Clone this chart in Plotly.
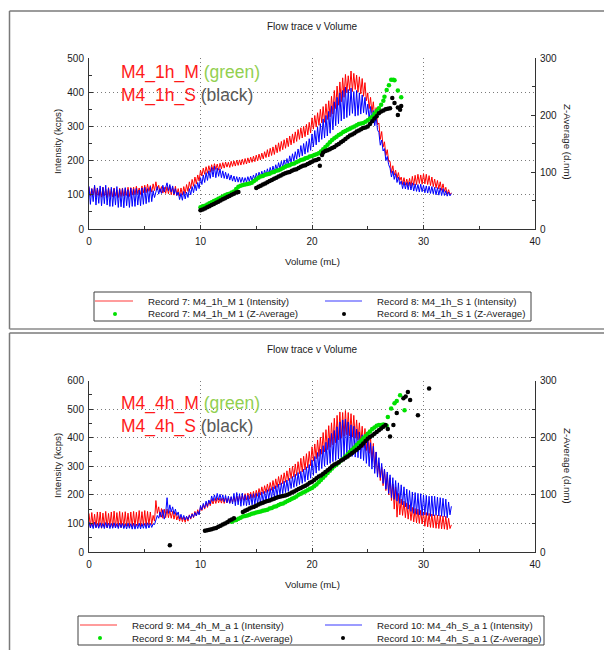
import plotly.graph_objects as go

# The page body has an 8px margin: the figure is 604x642 drawn at (8, 8)
W, H = 604, 642
OFF = 8
FONT = "Liberation Sans, Arial, sans-serif"
TXT = "#1a1a1a"

# ---------------- data ----------------
# volume sampling grid (mL) for the intensity traces, one reading every 0.125 mL
volume = [round(i * 0.125, 3) for i in range(261)]

# Record 7: M4_1h_M 1 (Intensity), kcps  (8 readings per mL)
red_top = [
    122, 96, 118, 100, 125, 94, 120, 98,
    118, 93, 122, 97, 116, 92, 121, 95,
    117, 94, 120, 96, 115, 92, 119, 95,
    120, 96, 118, 98, 122, 95, 121, 99,
    122, 100, 125, 103, 120, 101, 126, 106,
    128, 106, 131, 110, 127, 108, 132, 112,
    138, 114, 128, 108, 124, 105, 122, 104,
    124, 103, 126, 100, 121, 99, 125, 98,
    118, 96, 120, 99, 124, 104, 130, 110,
    138, 118, 145, 125, 152, 132, 158, 140,
    172, 155, 178, 160, 182, 163, 185, 166,
    188, 170, 191, 174, 190, 172, 192, 176,
    194, 178, 196, 181, 195, 180, 198, 183,
    199, 184, 201, 186, 202, 187, 204, 189,
    206, 190, 208, 193, 210, 195, 213, 197,
    216, 199, 219, 202, 222, 205, 226, 209,
    232, 211, 236, 215, 240, 218, 246, 223,
    252, 227, 256, 232, 261, 236, 266, 241,
    272, 246, 278, 251, 284, 256, 291, 262,
    296, 266, 300, 270, 306, 275, 312, 281,
    325, 292, 332, 298, 340, 303, 350, 310,
    358, 312, 366, 320, 375, 328, 388, 336,
    405, 352, 418, 362, 430, 372, 442, 385,
    452, 398, 448, 405, 462, 402, 455, 408,
    450, 400, 445, 395, 440, 388, 428, 375,
    398, 352, 385, 340, 372, 322, 355, 305,
    310, 262, 285, 240, 255, 215, 232, 198,
    198, 165, 185, 158, 172, 148, 165, 142,
    152, 130, 150, 128, 146, 126, 148, 125,
    154, 128, 157, 130, 160, 133, 158, 131,
    162, 132, 160, 130, 156, 127, 152, 124,
    146, 120, 142, 117, 138, 113, 132, 110,
    122, 102, 115, 100, 106,
]
# Record 8: M4_1h_S 1 (Intensity), kcps
blue_top = [
    125, 72, 118, 80, 128, 70, 120, 75,
    126, 68, 122, 74, 128, 70, 119, 66,
    122, 66, 118, 70, 124, 63, 116, 65,
    118, 62, 121, 68, 115, 63, 120, 66,
    116, 66, 119, 70, 114, 68, 120, 72,
    122, 74, 118, 78, 124, 80, 112, 92,
    108, 124, 102, 118, 104, 128, 108, 122,
    135, 112, 130, 108, 126, 102, 118, 98,
    108, 86, 104, 84, 110, 88, 108, 92,
    118, 100, 124, 106, 130, 112, 136, 118,
    150, 130, 158, 136, 165, 142, 170, 148,
    180, 152, 184, 150, 178, 154, 176, 150,
    170, 148, 166, 146, 162, 143, 158, 140,
    155, 138, 153, 137, 152, 136, 151, 136,
    150, 137, 153, 139, 155, 141, 158, 144,
    163, 149, 166, 152, 169, 154, 172, 157,
    176, 160, 180, 163, 184, 167, 188, 171,
    194, 177, 198, 181, 202, 184, 206, 188,
    214, 194, 220, 199, 226, 204, 234, 210,
    244, 214, 250, 219, 256, 224, 264, 230,
    278, 240, 288, 246, 298, 254, 308, 262,
    322, 266, 332, 272, 344, 280, 360, 290,
    372, 302, 385, 308, 398, 316, 405, 322,
    415, 326, 408, 332, 412, 338, 402, 330,
    405, 332, 398, 336, 392, 340, 385, 335,
    365, 322, 358, 315, 346, 302, 330, 290,
    282, 245, 260, 228, 235, 200, 212, 188,
    178, 152, 170, 145, 162, 136, 152, 130,
    140, 118, 138, 117, 136, 115, 137, 114,
    135, 111, 132, 110, 130, 108, 131, 109,
    128, 106, 126, 105, 125, 104, 124, 103,
    122, 100, 121, 99, 120, 98, 118, 98,
    112, 96, 108, 97, 104,
]
# Record 7: M4_1h_M 1 (Z-Average), (mL, d.nm)
green_top = [
    (10.0, 38), (10.2, 40), (10.4, 41), (10.6, 43), (10.8, 45), (11.0, 47), (11.2, 49),
    (11.4, 51), (11.6, 53), (11.8, 55), (12.0, 57), (12.2, 59), (12.4, 61), (12.6, 62),
    (12.8, 64), (13.0, 66), (13.2, 70), (13.4, 74), (13.6, 76), (13.8, 77), (14.0, 78),
    (14.2, 79), (14.4, 80), (14.6, 81), (14.8, 84), (15.0, 87), (15.2, 90), (15.4, 92),
    (15.6, 93), (15.8, 95), (16.0, 96), (16.2, 97), (16.4, 99), (16.6, 100), (16.8, 102),
    (17.0, 103), (17.2, 105), (17.4, 107), (17.6, 109), (17.8, 111), (18.0, 112),
    (18.2, 114), (18.4, 115), (18.6, 117), (18.8, 119), (19.0, 121), (19.2, 122),
    (19.4, 124), (19.6, 125), (19.8, 127), (20.0, 128), (20.2, 130), (20.4, 131),
    (20.6, 133), (20.8, 136), (21.0, 140), (21.2, 144), (21.4, 148), (21.6, 152),
    (21.8, 156), (22.0, 159), (22.2, 162), (22.4, 165), (22.6, 167), (22.8, 170),
    (23.0, 172), (23.2, 174), (23.4, 176), (23.6, 178), (23.8, 180), (24.0, 182),
    (24.2, 184), (24.4, 185), (24.6, 186), (24.8, 188), (25.0, 191), (25.2, 194),
    (25.4, 197), (25.6, 202), (25.8, 207), (26.0, 212), (26.2, 218), (26.4, 225),
    (26.5, 232), (26.7, 244), (26.9, 252), (27.1, 262), (27.3, 262), (27.4, 261),
    (27.7, 243), (28.0, 231),
]
# Record 8: M4_1h_S 1 (Z-Average)
black_top = [
    (10.0, 33), (10.2, 34), (10.4, 36), (10.6, 38), (10.8, 40), (11.0, 42), (11.2, 44),
    (11.4, 46), (11.6, 48), (11.8, 50), (12.0, 52), (12.2, 54), (12.4, 56), (12.6, 58),
    (12.8, 60), (13.0, 62), (13.2, 64), (13.4, 65),
    (15.0, 72), (15.2, 74), (15.4, 76), (15.6, 78), (15.8, 80), (16.0, 82), (16.2, 84),
    (16.4, 86), (16.6, 88), (16.8, 90), (17.0, 92), (17.2, 94), (17.4, 96), (17.6, 98),
    (17.8, 99), (18.0, 100), (18.2, 102), (18.4, 104), (18.6, 105), (18.8, 107),
    (19.0, 109), (19.2, 111), (19.4, 112), (19.6, 114), (19.8, 116), (20.0, 118),
    (20.2, 120), (20.4, 121), (20.6, 123), (20.7, 111), (20.9, 130), (21.0, 134),
    (21.2, 137), (21.4, 138), (21.6, 140), (21.8, 142), (22.0, 144), (22.2, 147),
    (22.4, 149), (22.6, 152), (22.8, 155), (23.0, 158), (23.2, 161), (23.4, 164),
    (23.6, 166), (23.8, 168), (24.0, 171), (24.2, 173), (24.4, 175), (24.6, 177),
    (24.8, 178), (25.0, 180), (25.2, 184), (25.4, 189), (25.6, 194), (25.8, 198),
    (26.0, 203), (26.2, 206), (26.4, 208), (26.6, 210), (26.8, 211), (27.0, 212),
    (27.2, 230), (27.4, 221), (27.7, 213), (27.7, 200), (27.9, 209), (28.0, 216),
]

# Record 9: M4_4h_M_a 1 (Intensity)
red_bot = [
    135, 86, 138, 90, 132, 85, 140, 88,
    140, 83, 136, 88, 142, 84, 135, 90,
    140, 86, 143, 84, 138, 88, 142, 85,
    138, 86, 141, 90, 136, 85, 140, 89,
    142, 88, 139, 92, 145, 89, 141, 93,
    145, 90, 142, 94, 140, 96, 128, 108,
    180, 135, 158, 122, 152, 118, 150, 120,
    150, 120, 145, 118, 142, 115, 138, 112,
    128, 108, 125, 106, 122, 104, 124, 108,
    130, 115, 135, 120, 142, 126, 148, 132,
    158, 145, 165, 150, 172, 156, 178, 162,
    184, 168, 187, 170, 190, 172, 188, 171,
    188, 170, 190, 172, 189, 171, 192, 174,
    194, 175, 196, 177, 198, 179, 200, 181,
    204, 182, 206, 185, 209, 188, 212, 190,
    216, 195, 222, 199, 228, 204, 232, 208,
    238, 212, 243, 216, 250, 221, 256, 226,
    264, 234, 270, 239, 277, 244, 284, 250,
    294, 257, 300, 262, 308, 268, 316, 274,
    328, 280, 335, 287, 344, 294, 352, 302,
    368, 318, 378, 326, 392, 334, 402, 342,
    418, 350, 428, 358, 442, 366, 452, 375,
    468, 382, 478, 392, 490, 398, 488, 405,
    495, 410, 488, 406, 484, 402, 478, 398,
    462, 392, 452, 380, 440, 366, 432, 355,
    420, 345, 402, 320, 380, 292, 350, 270,
    312, 250, 298, 232, 290, 215, 272, 200,
    260, 180, 238, 150, 228, 122, 205, 130,
    185, 128, 178, 120, 172, 115, 165, 110,
    156, 105, 152, 102, 150, 100, 146, 98,
    140, 90, 138, 88, 135, 86, 133, 85,
    130, 83, 129, 82, 128, 81, 126, 80,
    125, 78, 118, 82, 95,
]
# Record 10: M4_4h_S_a 1 (Intensity)
blue_bot = [
    105, 84, 100, 82, 104, 85, 99, 83,
    102, 84, 100, 82, 103, 85, 101, 82,
    100, 83, 102, 84, 99, 82, 101, 85,
    100, 82, 98, 81, 101, 83, 99, 80,
    100, 80, 98, 82, 101, 81, 99, 83,
    100, 82, 102, 84, 100, 86, 98, 96,
    112, 128, 118, 140, 122, 148, 115, 135,
    190, 135, 165, 140, 158, 132, 150, 128,
    140, 116, 132, 114, 128, 112, 125, 114,
    128, 118, 133, 122, 138, 126, 142, 130,
    162, 148, 170, 154, 178, 160, 182, 168,
    196, 178, 200, 180, 205, 182, 202, 180,
    200, 176, 198, 172, 195, 170, 194, 168,
    205, 162, 208, 165, 204, 160, 206, 163,
    200, 162, 198, 164, 202, 165, 204, 166,
    205, 168, 208, 171, 210, 174, 212, 178,
    218, 185, 222, 188, 228, 192, 232, 196,
    238, 200, 242, 204, 248, 208, 252, 212,
    258, 222, 264, 226, 272, 230, 278, 236,
    282, 240, 290, 246, 298, 252, 306, 258,
    322, 268, 334, 276, 348, 285, 360, 292,
    372, 300, 384, 305, 398, 310, 415, 316,
    425, 320, 438, 326, 455, 330, 462, 334,
    465, 340, 455, 338, 445, 335, 440, 332,
    430, 330, 420, 326, 410, 320, 398, 310,
    390, 300, 382, 290, 370, 275, 350, 262,
    330, 260, 310, 240, 290, 220, 280, 205,
    270, 190, 260, 184, 250, 178, 242, 170,
    235, 165, 228, 158, 220, 150, 215, 142,
    210, 135, 208, 132, 205, 130, 204, 128,
    200, 130, 198, 128, 195, 125, 196, 126,
    195, 128, 192, 126, 190, 125, 188, 124,
    185, 120, 175, 130, 160,
]
# Record 9: M4_4h_M_a 1 (Z-Average)
green_bot = [
    (12.8, 53), (13.0, 55), (13.2, 56), (13.4, 58), (13.6, 60), (13.8, 62), (14.0, 63),
    (14.2, 64), (14.4, 65), (14.6, 67), (14.8, 68), (15.0, 69), (15.2, 70), (15.4, 71),
    (15.6, 72), (15.8, 73), (16.0, 74), (16.2, 76), (16.4, 77), (16.6, 79), (16.8, 80),
    (17.0, 82), (17.2, 84), (17.4, 85), (17.6, 87), (17.8, 89), (18.0, 91), (18.2, 93),
    (18.4, 95), (18.6, 97), (18.8, 100), (19.0, 102), (19.2, 104), (19.4, 106),
    (19.6, 108), (19.8, 110), (20.0, 112), (20.2, 115), (20.4, 118), (20.6, 122),
    (20.8, 126), (21.0, 130), (21.2, 134), (21.4, 138), (21.6, 142), (21.8, 146),
    (22.0, 150), (22.2, 153), (22.4, 156), (22.6, 160), (22.8, 163), (23.0, 167),
    (23.2, 171), (23.4, 175), (23.6, 179), (23.8, 183), (24.0, 187), (24.2, 191),
    (24.4, 195), (24.6, 199), (24.8, 203), (25.0, 207), (25.2, 211), (25.4, 215),
    (25.6, 218), (25.8, 221), (26.0, 222), (26.2, 222), (26.4, 223), (26.7, 221),
    (26.8, 236), (27.1, 251), (27.4, 260), (27.6, 264), (27.9, 274), (28.3, 248),
]
# Record 10: M4_4h_S_a 1 (Z-Average)
black_bot = [
    (7.25, 12), (10.4, 37), (10.6, 38), (10.8, 39), (11.0, 40), (11.2, 41), (11.4, 42),
    (11.6, 44), (11.8, 46), (12.0, 48), (12.2, 50), (12.4, 52), (12.6, 55), (12.8, 57),
    (13.0, 59), (13.8, 70), (14.0, 72), (14.2, 74), (14.4, 76), (14.6, 78), (14.8, 79),
    (15.0, 81), (15.2, 83), (15.4, 85), (15.6, 86), (15.8, 88), (16.0, 89), (16.2, 90),
    (16.4, 92), (16.6, 93), (16.8, 95), (17.0, 96), (17.2, 97), (17.4, 98), (17.6, 99),
    (17.8, 100), (18.0, 102), (18.2, 104), (18.4, 106), (18.6, 108), (18.8, 110),
    (19.0, 112), (19.2, 114), (19.4, 116), (19.6, 118), (19.8, 121), (20.0, 123),
    (20.2, 126), (20.4, 129), (20.6, 132), (20.8, 134), (21.0, 137), (21.2, 140),
    (21.4, 143), (21.6, 146), (21.8, 150), (22.0, 153), (22.2, 155), (22.4, 157),
    (22.6, 160), (22.8, 162), (23.0, 165), (23.2, 167), (23.4, 170), (23.6, 173),
    (23.8, 176), (24.0, 179), (24.2, 182), (24.4, 186), (24.6, 190), (24.8, 194),
    (25.0, 198), (25.2, 201), (25.4, 204), (25.6, 207), (25.8, 210), (26.0, 213),
    (26.2, 216), (26.4, 219), (26.6, 222), (26.8, 215), (27.0, 202), (27.3, 222),
    (27.6, 243), (28.2, 269), (28.4, 272), (28.6, 280), (28.8, 266), (29.5, 239),
    (30.5, 286),
]

legend_top = [
    "Record 7: M4_1h_M 1 (Intensity)", "Record 8: M4_1h_S 1 (Intensity)",
    "Record 7: M4_1h_M 1 (Z-Average)", "Record 8: M4_1h_S 1 (Z-Average)",
]
legend_bot = [
    "Record 9: M4_4h_M_a 1 (Intensity)", "Record 10: M4_4h_S_a 1 (Intensity)",
    "Record 9: M4_4h_M_a 1 (Z-Average)", "Record 10: M4_4h_S_a 1 (Z-Average)",
]

RED, BLUE, GREEN, BLACK = "#ff0000", "#0000ff", "#00e000", "#000000"


def px(x):
    return (x - OFF) / W


def py(y):
    return 1 - (y - OFF) / H


fig = go.Figure()


def add_panel(xa, ya, ya2, red, blue, green, black, names):
    fig.add_trace(go.Scatter(x=volume, y=red, mode="lines", name=names[0],
                             line=dict(color=RED, width=1), xaxis=xa, yaxis=ya, showlegend=False))
    fig.add_trace(go.Scatter(x=volume, y=blue, mode="lines", name=names[1],
                             line=dict(color=BLUE, width=1), xaxis=xa, yaxis=ya, showlegend=False))
    fig.add_trace(go.Scatter(x=[p[0] for p in green], y=[p[1] for p in green], mode="markers",
                             name=names[2], marker=dict(color=GREEN, size=4.5),
                             xaxis=xa, yaxis=ya2, showlegend=False))
    fig.add_trace(go.Scatter(x=[p[0] for p in black], y=[p[1] for p in black], mode="markers",
                             name=names[3], marker=dict(color=BLACK, size=4.5),
                             xaxis=xa, yaxis=ya2, showlegend=False))


add_panel("x", "y", "y2", red_top, blue_top, green_top, black_top, legend_top)
add_panel("x2", "y3", "y4", red_bot, blue_bot, green_bot, black_bot, legend_bot)

tickfont = dict(family=FONT, size=10, color=TXT)
AX = "#333333"


def xaxis(anchor, dom):
    return dict(domain=dom, anchor=anchor, range=[0, 40], dtick=10, tick0=0, automargin=False,
                ticks="inside", ticklen=4, tickcolor=AX, showline=True, linecolor=AX,
                linewidth=1, showgrid=True, gridcolor="#7a7a7a", griddash="1px,3px",
                gridwidth=1, zeroline=False, tickfont=tickfont, ticklabelstandoff=3,
                minor=dict(ticks="inside", ticklen=3, dtick=5, tickcolor=AX, showgrid=False))


def yaxis(anchor, dom, rng, grid=True, side="left", overlay=None):
    d = dict(anchor=anchor, range=rng, dtick=100, tick0=0, ticks="inside", ticklen=4,
             tickcolor=AX, showline=True, linecolor=AX, linewidth=1, showgrid=grid,
             gridcolor="#7a7a7a", griddash="1px,3px", gridwidth=1, zeroline=False,
             tickfont=tickfont, side=side, ticklabelstandoff=2, automargin=False,
             minor=dict(ticks="inside", ticklen=3, dtick=50, tickcolor=AX, showgrid=False))
    if overlay:
        d["overlaying"] = overlay
    else:
        d["domain"] = dom
    return d


XD = [px(89), px(535)]
top_dom = [py(229), py(58)]
bot_dom = [py(552), py(380.5)]

fig.update_layout(
    width=W, height=H, margin=dict(l=0, r=0, t=0, b=0, pad=0, autoexpand=False),
    paper_bgcolor="white", plot_bgcolor="white", showlegend=False,
    xaxis=xaxis("y", XD),
    yaxis=yaxis("x", top_dom, [0, 500]),
    yaxis2=yaxis("x", None, [0, 300], grid=False, side="right", overlay="y"),
    xaxis2=xaxis("y3", XD),
    yaxis3=yaxis("x2", bot_dom, [0, 600]),
    yaxis4=yaxis("x2", None, [0, 300], grid=False, side="right", overlay="y3"),
)

shapes = []
annots = []


def line(x0, y0, x1, y1, color, width=1):
    shapes.append(dict(type="line", xref="paper", yref="paper", x0=px(x0), y0=py(y0),
                       x1=px(x1), y1=py(y1), line=dict(color=color, width=width)))


def text(x, y, s, size=9.7, xanchor="center", angle=0, color=TXT):
    annots.append(dict(xref="paper", yref="paper", x=px(x), y=py(y), text=s, showarrow=False,
                       xanchor=xanchor, yanchor="middle", textangle=angle,
                       font=dict(family=FONT, size=size, color=color)))


# panel frames
line(9.5, 11, 612, 11, "#7a7a7a", 1.5)
line(9.5, 11, 9.5, 329, "#7a7a7a", 1.5)
line(9.5, 329, 612, 329, "#8a8a8a", 1.5)
line(9.5, 333, 612, 333, "#7a7a7a", 1.5)
line(9.5, 333, 9.5, 650, "#7a7a7a", 1.5)

# white boxes behind the big labels (hide grid under the text)
for (y0, y1) in [(56, 117), (378, 445)]:
    shapes.append(dict(type="rect", xref="paper", yref="paper", x0=px(105), x1=px(295),
                       y0=py(y1), y1=py(y0), fillcolor="white", line=dict(width=0),
                       layer="between"))


def panel_text(title_y, mid_y, vol_y, big_y, big1, big2):
    text(312, title_y, "Flow trace v Volume", size=10)
    text(57, mid_y, "Intensity (kcps)", angle=-90)
    text(568, mid_y, "Z-Average (d.nm)", angle=90)
    text(312, vol_y, "Volume (mL)")
    s = (f'<span style="color:#ff1a1a">{big1}</span> <span style="color:#92d050">(green)</span><br>'
         f'<span style="color:#ff1a1a">{big2}</span> <span style="color:#595959">(black)</span>')
    annots.append(dict(xref="paper", yref="paper", x=px(119), y=py(big_y), text=s,
                       showarrow=False, xanchor="left", yanchor="middle", align="left",
                       font=dict(family=FONT, size=17.5)))


panel_text(27, 142, 261, 84, "M4_1h_M", "M4_1h_S")
panel_text(350, 466, 584, 414.5, "M4_4h_M", "M4_4h_S")


def legend_box(x0, y0, x1, y1, r1, r2, line_l, line_r, t1, t2, dot1, dot2, labels):
    shapes.append(dict(type="rect", xref="paper", yref="paper", x0=px(x0), x1=px(x1),
                       y0=py(y1), y1=py(y0), line=dict(color="#404040", width=1),
                       fillcolor="white", layer="below"))
    line(line_l[0], r1, line_l[1], r1, "#ff3b3b", 1.2)
    line(line_r[0], r1, line_r[1], r1, "#3b3bff", 1.2)
    for (cx, col) in [(dot1, GREEN), (dot2, BLACK)]:
        shapes.append(dict(type="circle", xref="paper", yref="paper", x0=px(cx - 2), x1=px(cx + 2),
                           y0=py(r2 + 2), y1=py(r2 - 2), fillcolor=col, line=dict(width=0)))
    text(t1, r1, labels[0], xanchor="left")
    text(t2, r1, labels[1], xanchor="left")
    text(t1, r2, labels[2], xanchor="left")
    text(t2, r2, labels[3], xanchor="left")


legend_box(94, 292, 531, 321, 301, 314, (95, 133), (325, 362), 146, 375, 115, 344, legend_top)
legend_box(78, 616, 544, 645, 625, 638, (80, 117), (325, 362), 130, 375, 100, 343, legend_bot)

fig.update_layout(shapes=shapes, annotations=annots)
fig.write_html("out.html")
